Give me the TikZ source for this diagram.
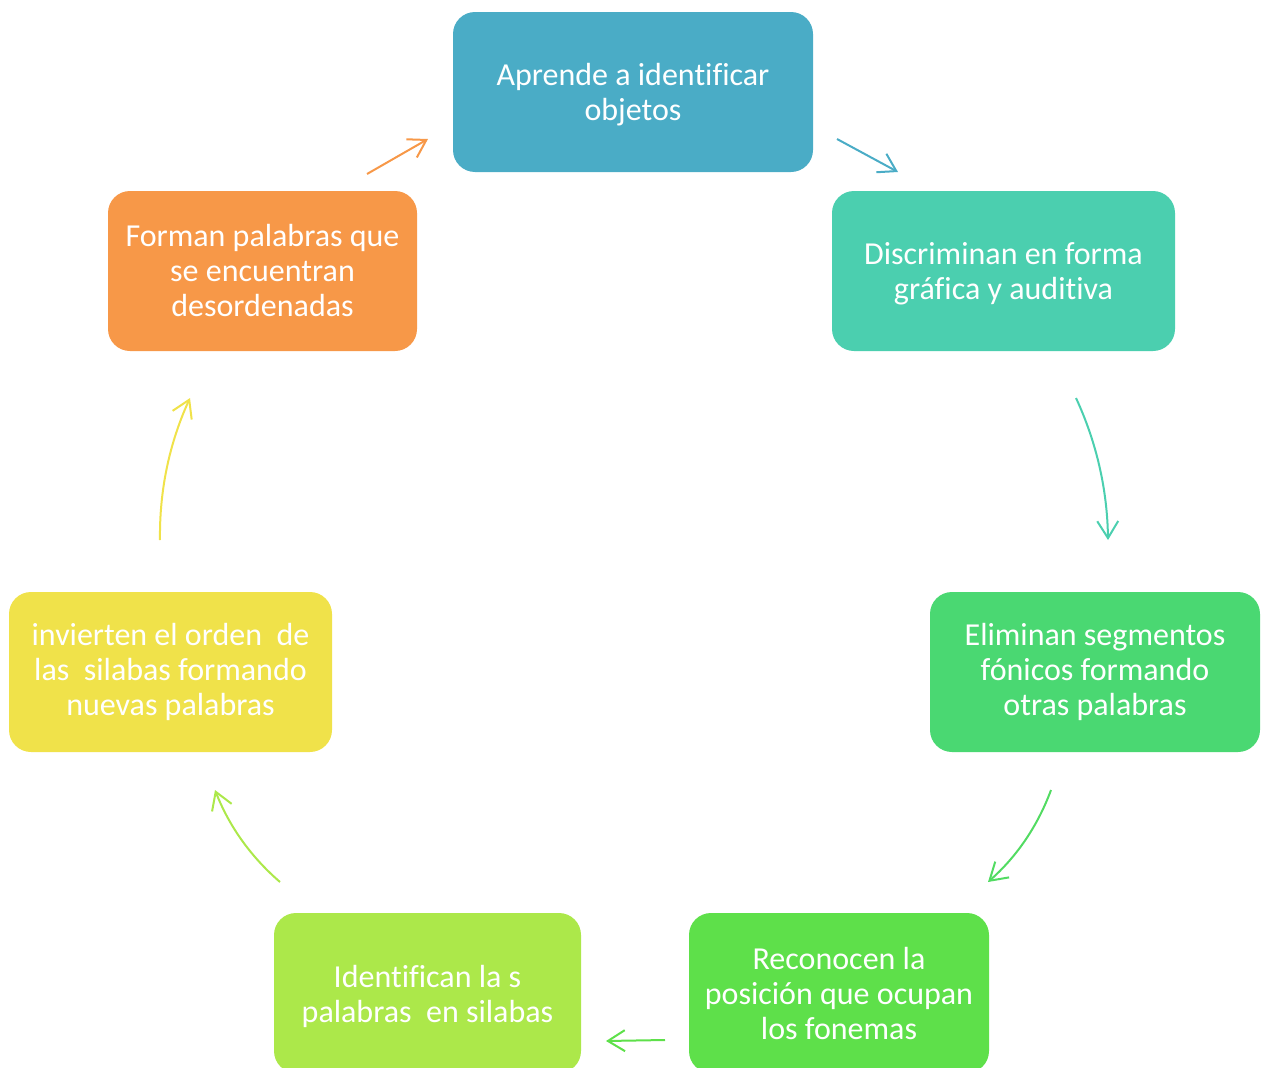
\documentclass[tikz,border=0pt]{standalone}
\usepackage{fontspec}
\setmainfont{Carlito}[RawFeature={-liga}]
\usetikzlibrary{arrows.meta}
\definecolor{cA}{RGB}{74,172,198}
\definecolor{cB}{RGB}{75,207,175}
\definecolor{cC}{RGB}{74,216,114}
\definecolor{cD}{RGB}{94,224,74}
\definecolor{cE}{RGB}{172,232,74}
\definecolor{cF}{RGB}{240,226,74}
\definecolor{cG}{RGB}{247,152,72}
\begin{document}
\begin{tikzpicture}[x=1pt,y=-1pt,
  cyclebox/.style={rectangle,rounded corners=22pt,inner sep=0pt,minimum height=160pt},
  boxtext/.style={text=white,align=center,inner sep=0pt,font=\fontsize{32}{35}\selectfont},
  twoline/.style={boxtext,yshift=-3pt},
  arr/.style={line width=2pt,-{Straight Barb[length=17pt,width=21pt]}}]
\useasboundingbox (0,0) rectangle (1267,1068);
\clip (0,0) rectangle (1267,1068);
\node[cyclebox,fill=cA,minimum width=360pt] (b1) at (633,92) {};
\node[cyclebox,fill=cB,minimum width=343pt] (b2) at (1003.5,271) {};
\node[cyclebox,fill=cC,minimum width=330pt] (b3) at (1095,672) {};
\node[cyclebox,fill=cD,minimum width=300pt] (b4) at (839,993) {};
\node[cyclebox,fill=cE,minimum width=307pt] (b5) at (427.5,993) {};
\node[cyclebox,fill=cF,minimum width=323pt] (b6) at (170.5,672) {};
\node[cyclebox,fill=cG,minimum width=309pt] (b7) at (262.5,271) {};
\node[twoline] (t1) at (b1.center) {Aprende a identificar\\objetos};
\node[twoline] (t2) at (b2.center) {Discriminan en forma\\gráfica y auditiva};
\node[boxtext] (t3) at (b3.center) {Eliminan segmentos\\fónicos formando\\otras palabras};
\node[boxtext] (t4) at (b4.center) {Reconocen la\\posición que ocupan\\los fonemas};
\node[twoline] (t5) at (b5.center) {Identifican la s\\palabras \ en silabas};
\node[boxtext] (t6) at (b6.center) {invierten el orden \ de\\las \ silabas formando\\nuevas palabras};
\node[boxtext] (t7) at (b7.center) {Forman palabras que\\se encuentran\\desordenadas};
\coordinate (a1s) at (837,139); \coordinate (a1e) at (898,172);
\coordinate (a2s) at (1076,398); \coordinate (a2e) at (1108,540);
\coordinate (a3s) at (1051,790); \coordinate (a3e) at (988,882);
\coordinate (a4s) at (665,1040); \coordinate (a4e) at (606,1041);
\coordinate (a5s) at (280,882); \coordinate (a5e) at (215,790);
\coordinate (a6s) at (160,540); \coordinate (a6e) at (190,398);
\coordinate (a7s) at (367,174); \coordinate (a7e) at (428,139);
\draw[arr,cA] (a1s) -- (a1e);
\draw[arr,cB] (a2s) .. controls (1096.7,442.7) and (1107.3,490) .. (a2e);
\draw[arr,cC!60!cD] (a3s) .. controls (1037.7,826) and (1016.7,856.7) .. (a3e);
\draw[arr,cD] (a4s) -- (a4e);
\draw[arr,cE] (a5s) .. controls (250.7,856.7) and (229,826) .. (a5e);
\draw[arr,cF] (a6s) .. controls (159.3,490.7) and (169.3,443.3) .. (a6e);
\draw[arr,cG] (a7s) -- (a7e);
\end{tikzpicture}
\end{document}
